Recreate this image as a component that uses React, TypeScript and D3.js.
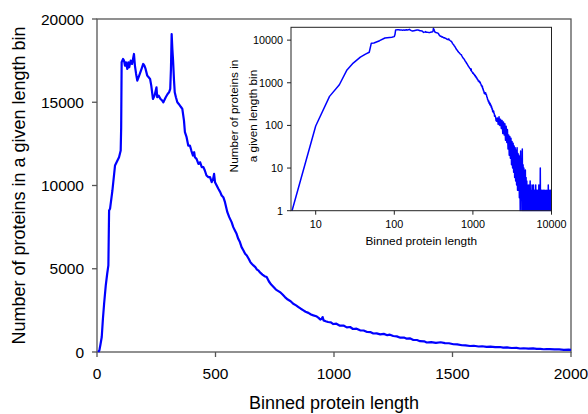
import React from "react";
import * as d3 from "d3";

const binLength: number[] = [
  5, 10, 15, 20, 25, 30, 37, 43, 48, 51, 55, 65, 76, 93, 100, 102, 104, 110, 114, 118,
  122, 128, 132, 136, 142, 148, 156, 160, 165, 170, 178, 188, 195, 200, 205, 212, 218, 224, 229, 236,
  243, 251, 254, 260, 268, 275, 280, 290, 298, 304, 309, 312, 315, 318, 321, 325, 328, 333, 339, 345,
  350, 355, 360, 367, 371, 378, 385, 392, 398, 405, 410, 413, 420, 428, 435, 442, 449, 455, 462, 470,
  477, 484, 490, 494, 498, 505, 512, 520, 526, 533, 540, 550, 558, 568, 575, 582, 589, 596, 603, 610,
  618, 625, 632, 640, 647, 653, 660, 668, 675, 681, 690, 698, 707, 716, 725, 735, 745, 755, 772, 783,
  793, 805, 817, 828, 840, 850, 860, 871, 880, 892, 903, 913, 925, 935, 942, 948, 952, 956, 965, 975,
  987, 997, 1010, 1025, 1040, 1054, 1068, 1080, 1095, 1110, 1125, 1140, 1155, 1166, 1180, 1195, 1210, 1225, 1236, 1250,
  1265, 1280, 1295, 1307, 1320, 1335, 1350, 1363, 1380, 1391, 1410, 1430, 1450, 1468, 1485, 1504, 1520, 1540, 1555, 1574,
  1590, 1610, 1625, 1644, 1660, 1680, 1700, 1714, 1730, 1750, 1770, 1785, 1800, 1820, 1840, 1855, 1870, 1885, 1897, 1910,
  1930, 1950, 1970, 1990, 2000,
  2050, 2100, 2150, 2200, 2250, 2300, 2350, 2400, 2450, 2500,
  2550, 2600, 2650, 2700, 2750, 2800, 2850, 2900, 2950, 3000,
  3050, 3100, 3150, 3200, 3250, 3300, 3350, 3400, 3450, 3500,
  3550, 3600, 3650, 3700, 3750, 3800, 3850, 3900, 3950, 4000,
  4050, 4100, 4150, 4200, 4250, 4300, 4350, 4400, 4450, 4500,
  4550, 4600, 4650, 4700, 4750, 4800, 4850, 4900, 4950, 5000,
  5050, 5100, 5150, 5200, 5250, 5300, 5350, 5400, 5450, 5500,
  5550, 5600, 5650, 5700, 5750, 5800, 5850, 5900, 5950, 6000,
  6050, 6100, 6150, 6200, 6250, 6300, 6350, 6400, 6450, 6500,
  6550, 6600, 6650, 6700, 6750, 6800, 6850, 6900, 6950, 7000,
  7050, 7100, 7150, 7200, 7250, 7300, 7350, 7400, 7450, 7500,
  7550, 7600, 7650, 7700, 7750, 7800, 7850, 7900, 7950, 8000,
  8050, 8100, 8150, 8200, 8250, 8300, 8350, 8400, 8450, 8500,
  8550, 8600, 8650, 8700, 8750, 8800, 8850, 8900, 8950, 9000,
  9050, 9100, 9150, 9200, 9250, 9300, 9350, 9400, 9450, 9500,
  9550, 9600, 9650, 9700, 9750, 9800, 9850, 9900, 9950, 10000,
];

const proteinCount: number[] = [
  1, 97, 480, 900, 2000, 2900, 4000, 4700, 5200, 8500, 8600, 9700, 11200, 11700, 12100, 13500, 17400, 17600, 17500, 17200,
  17400, 17000, 17400, 17100, 17500, 17300, 17900, 17200, 16700, 16300, 16600, 17000, 17300, 17200, 17000, 16600, 16500, 16400, 16000, 15200,
  15400, 15900, 15300, 15400, 15200, 15100, 15000, 15300, 15500, 15600, 15800, 17000, 19100, 18200, 17500, 16300, 15600, 15300, 15000, 14900,
  14800, 14700, 14600, 13900, 13200, 12900, 12400, 12400, 12100, 11800, 12000, 11700, 11600, 11300, 11400, 11100, 11100, 10900, 10600, 10500,
  10500, 10200, 10400, 10700, 10200, 10000, 9800, 9600, 9400, 9300, 9000, 8400, 8100, 7800, 7500, 7300, 7100, 6800, 6600, 6300,
  6100, 5900, 5800, 5600, 5400, 5300, 5200, 5100, 4950, 4900, 4750, 4650, 4550, 4500, 4250, 4050, 3900, 3750, 3600, 3450,
  3300, 3150, 3050, 2900, 2800, 2700, 2600, 2500, 2420, 2350, 2250, 2200, 2150, 2050, 1950, 2000, 2100, 1900, 1850, 1800,
  1780, 1680, 1700, 1580, 1590, 1480, 1500, 1380, 1400, 1300, 1290, 1200, 1190, 1110, 1120, 1060, 1090, 1010, 1040, 960,
  940, 860, 870, 800, 820, 720, 720, 650, 640, 570, 590, 545, 585, 530, 525, 465, 455, 405, 400, 360,
  375, 330, 345, 305, 325, 290, 300, 265, 275, 240, 245, 210, 225, 205, 215, 190, 190, 165, 175, 170,
  160, 155, 130, 140, 125,
  150, 105, 160, 100, 140, 85, 130, 65, 120, 60,
  110, 45, 95, 40, 80, 28, 60, 20, 55, 17,
  50, 12, 42, 10, 38, 8, 33, 6, 30, 5,
  26, 4, 30, 3, 22, 3, 20, 2, 18, 1,
  25, 2, 15, 1, 28, 1, 12, 1, 10, 1,
  8, 1, 9, 1, 6, 1, 5, 1, 4, 1,
  3, 1, 4, 1, 2, 1, 5, 1, 3, 1,
  2, 1, 4, 1, 3, 1, 2, 4, 1, 2,
  1, 3, 1, 2, 1, 4, 1, 2, 1, 3,
  1, 2, 1, 3, 1, 2, 1, 4, 1, 2,
  1, 3, 1, 10, 1, 2, 1, 3, 1, 2,
  1, 3, 1, 2, 1, 2, 1, 3, 1, 2,
  1, 2, 1, 3, 1, 2, 1, 1, 2, 1,
  3, 1, 2, 1, 2, 1, 1, 3, 1, 2,
  1, 4, 1, 2, 1, 1, 3, 1, 2, 1,
  2, 1, 1, 3, 1, 2, 1, 1, 2, 1,
];

const mainXTicks: number[] = [0, 500, 1000, 1500, 2000];
const mainYTicks: number[] = [0, 5000, 10000, 15000, 20000];
const insetXTicks: number[] = [10, 100, 1000, 10000];
const insetYTicks: number[] = [1, 10, 100, 1000, 10000];

const xAxisTitle = "Binned protein length";
const yAxisTitle = "Number of proteins in a given length bin";
const insetYTitle1 = "Number of proteins in";
const insetYTitle2 = "a given length bin";

const FONT = "'Liberation Sans', Arial, sans-serif";

export default function App() {
  const W = 588;
  const H = 414;
  const points = binLength.map((l, i) => ({ l, n: proteinCount[i] }));

  // Main chart
  const mL = 97, mR = 571, mT = 19, mB = 352;
  const x = d3.scaleLinear().domain([0, 2000]).range([mL, mR]);
  const y = d3.scaleLinear().domain([0, 20000]).range([mB, mT]);
  const mainLine = d3
    .line<{ l: number; n: number }>()
    .x((d) => x(d.l))
    .y((d) => y(d.n));
  const mainPts = points.filter((d) => d.l <= 2000);

  // Inset chart
  const iL = 291, iR = 551.5, iT = 27.3, iB = 210.7;
  const xi = d3.scaleLog().domain([4.85, 10000]).range([iL, iR]);
  const yi = d3.scaleLog().domain([1, 20000]).range([iB, iT]);
  const insetLine = d3
    .line<{ l: number; n: number }>()
    .x((d) => xi(d.l))
    .y((d) => yi(Math.max(1, d.n)));

  const axisColor = "#555";

  return (
    <svg
      width={W}
      height={H}
      style={{ position: "absolute", left: 0, top: 0, background: "#fff" }}
      fontFamily={FONT}
    >
      <defs>
        <clipPath id="mainClip">
          <rect x={mL} y={mT - 2} width={mR - mL} height={mB - mT + 4} />
        </clipPath>
        <clipPath id="insetClip">
          <rect x={iL} y={iT} width={iR - iL} height={iB - iT + 0.5} />
        </clipPath>
      </defs>
      <rect x={0} y={0} width={W} height={H} fill="#fff" />

      {/* main frame */}
      <rect x={mL} y={mT} width={mR - mL} height={mB - mT} fill="none" stroke={axisColor} strokeWidth={1.3} />
      {mainYTicks.map((t) => (
        <g key={"my" + t}>
          <line x1={mL - 5} x2={mL} y1={y(t)} y2={y(t)} stroke={axisColor} strokeWidth={1.3} />
          <text x={mL - 13} y={y(t)} dy="0.36em" textAnchor="end" fontSize={15.5} fill="#000">
            {t}
          </text>
        </g>
      ))}
      {mainXTicks.map((t) => (
        <g key={"mx" + t}>
          <line x1={x(t)} x2={x(t)} y1={mB} y2={mB + 5} stroke={axisColor} strokeWidth={1.3} />
          <text x={x(t)} y={378.5} textAnchor="middle" fontSize={15.5} fill="#000">
            {t}
          </text>
        </g>
      ))}
      <text x={(mL + mR) / 2} y={409} textAnchor="middle" fontSize={18} fill="#000">
        {xAxisTitle}
      </text>
      <text
        transform={`translate(25,${(mT + mB) / 2}) rotate(-90)`}
        textAnchor="middle"
        fontSize={18}
        fill="#000"
      >
        {yAxisTitle}
      </text>
      <path
        d={mainLine(mainPts) || ""}
        fill="none"
        stroke="#0000ff"
        strokeWidth={2.2}
        strokeLinejoin="round"
        clipPath="url(#mainClip)"
      />

      {/* inset */}
      <rect x={iL} y={iT} width={iR - iL} height={iB - iT} fill="#fff" />
      <path
        d={insetLine(points) || ""}
        fill="none"
        stroke="#0000ff"
        strokeWidth={1.5}
        strokeLinejoin="round"
        clipPath="url(#insetClip)"
      />
      <rect x={iL} y={iT} width={iR - iL} height={iB - iT} fill="none" stroke="#222" strokeWidth={1} />
      {insetYTicks.map((t) => (
        <g key={"iy" + t}>
          <line x1={iL - 4} x2={iL} y1={yi(t)} y2={yi(t)} stroke="#222" strokeWidth={1} />
          <text x={iL - 8} y={yi(t)} dy="0.36em" textAnchor="end" fontSize={10.8} fill="#000">
            {t}
          </text>
        </g>
      ))}
      {insetXTicks.map((t) => (
        <g key={"ix" + t}>
          <line x1={xi(t)} x2={xi(t)} y1={iB} y2={iB + 4} stroke="#222" strokeWidth={1} />
          <text x={xi(t)} y={228.3} textAnchor="middle" fontSize={10.8} fill="#000">
            {t}
          </text>
        </g>
      ))}
      <text x={(iL + iR) / 2} y={245} textAnchor="middle" fontSize={11.8} fill="#000">
        {xAxisTitle}
      </text>
      <text
        transform={`translate(237.5,116) rotate(-90)`}
        textAnchor="middle"
        fontSize={11.8}
        fill="#000"
      >
        {insetYTitle1}
      </text>
      <text
        transform={`translate(256.5,116) rotate(-90)`}
        textAnchor="middle"
        fontSize={11.8}
        fill="#000"
      >
        {insetYTitle2}
      </text>
    </svg>
  );
}
